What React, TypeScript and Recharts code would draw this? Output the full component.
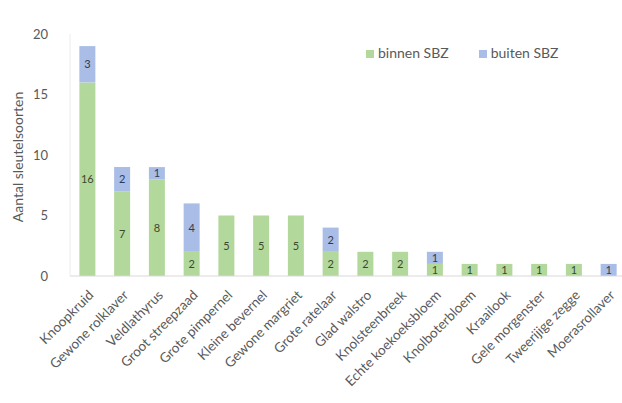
import React from 'react';
import { BarChart, Bar, XAxis, YAxis, Legend, LabelList } from 'recharts';

const categories = [
	'Knoopkruid',
	'Gewone rolklaver',
	'Veldlathyrus',
	'Groot streepzaad',
	'Grote pimpernel',
	'Kleine bevernel',
	'Gewone margriet',
	'Grote ratelaar',
	'Glad walstro',
	'Knolsteenbreek',
	'Echte koekoeksbloem',
	'Knolboterbloem',
	'Kraailook',
	'Gele morgenster',
	'Tweerijige zegge',
	'Moerasrollaver',
];
const binnenSBZ = [16, 7, 8, 2, 5, 5, 5, 2, 2, 2, 1, 1, 1, 1, 1, 0];
const buitenSBZ = [3, 2, 1, 4, 0, 0, 0, 2, 0, 0, 1, 0, 0, 0, 0, 1];
const yTicks = [0, 5, 10, 15, 20];

const FONT = 'Lato, "Liberation Sans", sans-serif';
const GREEN = '#b3d89c';
const BLUE = '#aabde6';

const data = categories.map((name, i) => ({
	name,
	binnen: binnenSBZ[i],
	buiten: buitenSBZ[i],
}));

const XTick = ({ x, y, payload }: any) => {
	const ax = x + 7;
	const ay = y + 12;
	return (
		<text
			x={ax}
			y={ay}
			transform={`rotate(-45, ${ax}, ${ay})`}
			textAnchor='end'
			fontSize={13.5}
			fontFamily={FONT}
			fill='#595959'
		>
			{payload.value}
		</text>
	);
};

const hideZero = (v: any) => (v ? v : '');

export default function App() {
	return (
		<div style={{ position: 'fixed', left: 0, top: 0, background: '#fff' }}>
			<BarChart
				width={622}
				height={403}
				data={data}
				margin={{ top: 17, right: -4, left: 0, bottom: 0 }}
				barCategoryGap='27%'
			>
				<XAxis
					dataKey='name'
					interval={0}
					height={127}
					tickLine={false}
					axisLine={{ stroke: '#d9d9d9' }}
					tick={<XTick />}
				/>
				<YAxis
					width={70}
					domain={[0, 20]}
					ticks={yTicks}
					tickLine={false}
					axisLine={{ stroke: '#ececec' }}
					tickMargin={16}
					tick={{ fontSize: 13, fill: '#595959', fontFamily: FONT }}
					label={{
						content: ({ viewBox }: any) => {
							const cx = 17;
							const cy = viewBox.y + viewBox.height / 2 + 2;
							return (
								<text
									x={cx}
									y={cy}
									transform={`rotate(-90, ${cx}, ${cy})`}
									textAnchor='middle'
									dominantBaseline='central'
									fontSize={14}
									fontFamily={FONT}
									fill='#595959'
								>
									Aantal sleutelsoorten
								</text>
							);
						},
					}}
				/>
				<Legend
					verticalAlign='top'
					align='left'
					iconType='square'
					iconSize={8}
					wrapperStyle={{
						top: 44,
						left: 366,
						width: 240,
						fontFamily: FONT,
						fontSize: 14,
					}}
					formatter={(value: string) => (
						<span style={{ color: '#595959', marginRight: 20 }}>{value}</span>
					)}
				/>
				<Bar
					dataKey='binnen'
					name='binnen SBZ'
					stackId='a'
					fill={GREEN}
					isAnimationActive={false}
				>
					<LabelList
						dataKey='binnen'
						position='center'
						formatter={hideZero}
						fill='#3a4a30'
						fontSize={11}
						fontFamily={FONT}
					/>
				</Bar>
				<Bar
					dataKey='buiten'
					name='buiten SBZ'
					stackId='a'
					fill={BLUE}
					isAnimationActive={false}
				>
					<LabelList
						dataKey='buiten'
						position='center'
						formatter={hideZero}
						fill='#2f3a55'
						fontSize={11}
						fontFamily={FONT}
					/>
				</Bar>
			</BarChart>
		</div>
	);
}
